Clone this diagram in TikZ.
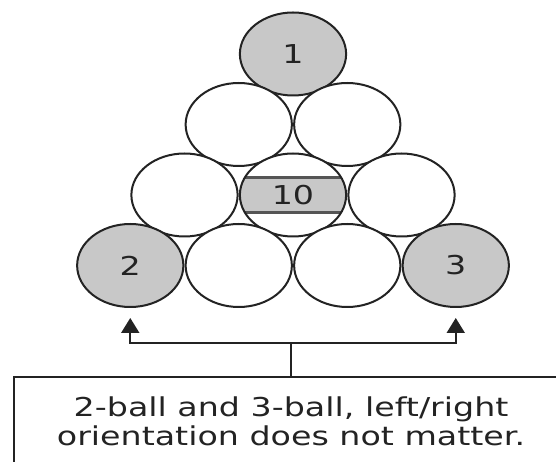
\documentclass[tikz,border=0pt]{standalone}
\usepackage{fontspec}
\setmainfont{DejaVu Sans}
\usepackage{tikz}
\usetikzlibrary{shapes.geometric, arrows.meta, positioning, calc}
\definecolor{ballgray}{RGB}{200,200,200}
\definecolor{inkgray}{RGB}{35,35,35}
\definecolor{stripeedge}{RGB}{85,85,85}

\begin{document}
\begin{tikzpicture}[
    x=1pt, y=1pt,
    ball/.style={circle, draw=inkgray, line width=2pt, fill=white, minimum size=83pt, inner sep=0pt, xscale=1.28, transform shape, font=\fontsize{26}{29}\selectfont, text=inkgray},
    solidball/.style={ball, fill=ballgray},
    stripeball/.style={ball, path picture={
        \fill[ballgray] ([yshift=-17.5pt]path picture bounding box.west) rectangle ([yshift=17.5pt]path picture bounding box.east);
        \draw[stripeedge, line width=3.2pt] ([yshift=17.5pt]path picture bounding box.west) -- ([yshift=17.5pt]path picture bounding box.east);
        \draw[stripeedge, line width=3.2pt] ([yshift=-17.5pt]path picture bounding box.west) -- ([yshift=-17.5pt]path picture bounding box.east);
    }},
    notebox/.style={draw=inkgray, line width=2pt, minimum width=432.8pt, minimum height=88pt, align=center, xscale=1.28, transform shape, font=\fontsize{26}{29}\selectfont, text=inkgray},
    arrow/.style={-{Triangle[width=18pt,length=15pt]}, line width=2pt, draw=inkgray}
]
    \useasboundingbox (0,0) rectangle (556,462);
    \clip (0,0) rectangle (556,462);

    % Rack, top row
    \node[solidball] (ball_1) at (293,408) {1};

    % Second row
    \node[ball] (ball_r2a) at (238.75,337.5) {};
    \node[ball] (ball_r2b) at (347.25,337.5) {};

    % Third row, 10-ball in the middle
    \node[ball] (ball_r3a) at (184.5,267) {};
    \node[stripeball] (ball_10) at (293,267) {10};
    \node[ball] (ball_r3c) at (401.5,267) {};

    % Bottom row, corners
    \node[solidball] (ball_2) at (130.25,196.5) {2};
    \node[ball] (ball_r4b) at (238.75,196.5) {};
    \node[ball] (ball_r4c) at (347.25,196.5) {};
    \node[solidball] (ball_3) at (455.75,196.5) {3};

    % Note
    \node[notebox] (note) at (291,41) {2-ball and 3-ball, left/right\\orientation does not matter.};

    % Bracket
    \coordinate (fork) at ($(note.north)+(0,33)$);
    \draw[line width=2pt, draw=inkgray] (note.north) -- (fork);
    \draw[arrow, shorten >=10pt] (fork) -| (ball_2);
    \draw[arrow, shorten >=10pt] (fork) -| (ball_3);
\end{tikzpicture}
\end{document}
